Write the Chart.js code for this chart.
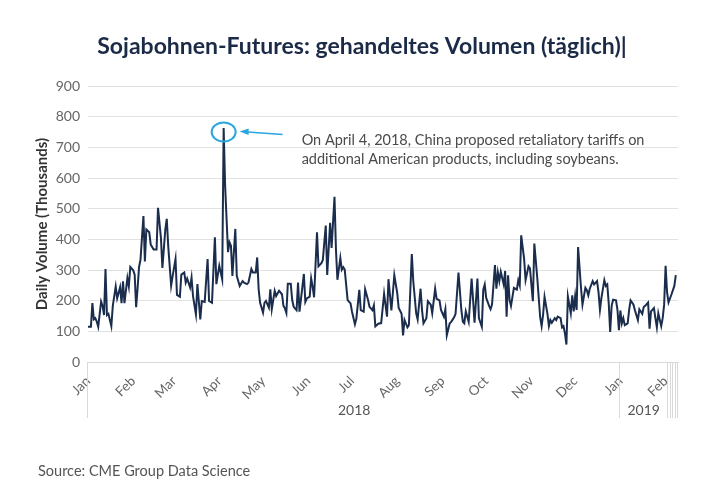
<!DOCTYPE html>
<html>
<head>
<meta charset="utf-8">
<title>Sojabohnen-Futures</title>
<script src="https://cdn.jsdelivr.net/npm/chart.js@4.4.1/dist/chart.umd.min.js"></script>
<style>
   html, body { margin: 0; padding: 0; background: #ffffff; }
   #chart-box { width: 720px; height: 500px; }
</style>
</head>
<body>
<div id="chart-box"><canvas id="volumeChart" width="720" height="500"></canvas></div>
<script>
const chartTitle = "Sojabohnen-Futures: gehandeltes Volumen (täglich)|";
const axisTitle = "Daily Volume (Thousands)";
const sourceText = "Source: CME Group Data Science";
const noteLines = [
   "On April 4, 2018, China proposed retaliatory tariffs on",
   "additional American products, including soybeans."
];

// days counted from Jan 1, 2018
const monthDays = [0, 31, 59, 90, 120, 151, 181, 212, 243, 273, 304, 334, 365, 396];
const monthLabels = ["Jan", "Feb", "Mar", "Apr", "May", "Jun", "Jul", "Aug", "Sep", "Oct", "Nov", "Dec", "Jan", "Feb"];
const yearStarts = [0, 365];
const yearLabels = ["2018", "2019"];
const yTicks = [0, 100, 200, 300, 400, 500, 600, 700, 800, 900];
const noteDay = 93;
const noteValue = 750;

const days = [
   0, 2, 3, 4, 5, 6, 7, 9, 10, 11, 12, 13, 14, 16, 17, 19, 20, 22, 23, 24,
   25, 27, 28, 29, 31, 32, 33, 34, 35, 36, 38, 39, 40, 42, 43, 45, 47, 48, 50, 51,
   53, 54, 55, 57, 58, 60, 61, 63, 64, 66, 67, 68, 70, 71, 72, 74, 75, 77, 78, 80,
   82, 83, 85, 87, 88, 90, 92, 93, 94, 95, 96, 97, 98, 99, 101, 102, 104, 106, 107, 109,
   110, 112, 113, 115, 116, 117, 118, 120, 121, 122, 124, 125, 126, 128, 129, 131, 133, 134, 135, 136,
   137, 139, 140, 141, 143, 144, 145, 147, 148, 149, 150, 152, 153, 154, 155, 157, 158, 160, 161, 163,
   164, 166, 167, 169, 170, 171, 173, 174, 175, 176, 178, 180, 181, 183, 184, 186, 187, 189, 190, 192,
   193, 195, 196, 197, 199, 201, 203, 205, 206, 208, 209, 210, 212, 213, 215, 216, 217, 219, 220, 222,
   223, 225, 226, 228, 229, 230, 232, 233, 235, 236, 238, 239, 241, 242, 244, 245, 246, 248, 249, 251,
   252, 254, 256, 257, 258, 259, 261, 263, 264, 265, 267, 268, 270, 271, 272, 273, 275, 276, 277, 279,
   280, 281, 282, 283, 285, 286, 287, 288, 289, 290, 292, 294, 295, 296, 297, 299, 300, 302, 303, 305,
   306, 308, 310, 311, 312, 313, 315, 316, 317, 318, 320, 321, 322, 324, 325, 326, 327, 328, 329, 331,
   332, 333, 334, 335, 336, 338, 339, 341, 342, 343, 344, 346, 347, 349, 350, 351, 352, 354, 355, 356,
   357, 358, 359, 360, 362, 363, 364, 365, 366, 367, 368, 370, 371, 372, 374, 375, 377, 378, 380, 381,
   382, 384, 385, 386, 388, 389, 390, 391, 393, 394, 395, 396, 397, 398, 400, 402, 403
];
const volumes = [
   115, 115, 192, 139, 143, 132, 115, 197, 183, 153, 303, 153, 157, 117, 183, 246, 208, 244, 192, 263,
   192, 274, 246, 310, 299, 285, 179, 241, 310, 334, 476, 328, 432, 423, 383, 367, 367, 503, 405, 307,
   432, 467, 378, 249, 279, 336, 219, 213, 285, 292, 259, 272, 243, 275, 215, 155, 254, 139, 199, 196,
   336, 199, 193, 407, 254, 314, 270, 763, 576, 467, 358, 390, 379, 281, 434, 281, 248, 264, 259, 254,
   259, 303, 292, 292, 341, 237, 193, 161, 193, 199, 177, 237, 172, 232, 215, 232, 221, 183, 175, 160,
   255, 255, 202, 180, 169, 259, 164, 246, 287, 196, 207, 213, 273, 246, 211, 423, 312, 322, 333, 445,
   284, 454, 372, 539, 366, 268, 339, 301, 309, 301, 202, 191, 164, 123, 142, 235, 169, 164, 237, 202,
   180, 169, 185, 116, 125, 127, 222, 148, 270, 168, 225, 283, 225, 176, 157, 87, 137, 113, 120, 352,
   264, 159, 139, 239, 170, 126, 143, 198, 187, 159, 239, 206, 201, 170, 148, 172, 87, 126, 131, 146,
   157, 292, 168, 131, 126, 165, 131, 272, 203, 128, 272, 143, 115, 236, 253, 209, 183, 172, 187, 316,
   239, 292, 264, 294, 253, 297, 148, 283, 203, 183, 242, 236, 267, 250, 413, 336, 267, 312, 305, 198,
   386, 275, 146, 117, 154, 212, 157, 117, 137, 128, 143, 137, 148, 143, 113, 117, 93, 57, 214, 159,
   217, 165, 214, 170, 375, 242, 187, 242, 234, 217, 239, 264, 253, 264, 228, 170, 209, 267, 248, 253,
   192, 98, 183, 203, 201, 170, 104, 168, 126, 143, 120, 126, 170, 201, 187, 168, 137, 172, 157, 179,
   183, 194, 109, 165, 176, 143, 113, 159, 117, 143, 187, 314, 228, 194, 220, 248, 283
];

const fontFamily = "Lato, 'Open Sans', sans-serif";
const lineColor = "#1b2d4d";
const noteColor = "#2aa7df";

function drawLine(ctx, x1, y1, x2, y2) {
   ctx.beginPath();
   ctx.moveTo(x1, y1);
   ctx.lineTo(x2, y2);
   ctx.stroke();
}

const extrasPlugin = {
   id: "extras",
   afterDraw(chart) {
      const ctx = chart.ctx;
      const area = chart.chartArea;
      const xs = chart.scales.x;
      const ys = chart.scales.y;
      ctx.save();

      // title
      ctx.fillStyle = "#1b2a47";
      ctx.font = "bold 23px " + fontFamily;
      ctx.textAlign = "center";
      ctx.textBaseline = "middle";
      ctx.fillText(chartTitle, 362, 47);

      // year header box under the axis
      const headerBottom = area.bottom + 56;
      const headerEnd = area.right - 11;
      ctx.strokeStyle = "#d9d9d9";
      ctx.lineWidth = 1;
      yearStarts.forEach(d => {
         const px = Math.round(xs.getPixelForValue(d)) - 0.5;
         drawLine(ctx, px, area.bottom, px, headerBottom);
      });
      for (let i = 0; i < 5; i++) {
         const px = Math.round(headerEnd + i * 2.6) + 0.5;
         drawLine(ctx, px, area.bottom, px, headerBottom);
      }
      ctx.fillStyle = "#555555";
      ctx.font = "14px " + fontFamily;
      yearLabels.forEach((label, i) => {
         const x1 = xs.getPixelForValue(yearStarts[i]);
         const x2 = i + 1 < yearStarts.length ? xs.getPixelForValue(yearStarts[i + 1]) : headerEnd;
         ctx.fillText(label, (x1 + x2) / 2, area.bottom + 48);
      });

      // annotation
      const cx = xs.getPixelForValue(noteDay);
      const cy = ys.getPixelForValue(noteValue);
      ctx.strokeStyle = noteColor;
      ctx.lineWidth = 2;
      ctx.beginPath();
      ctx.ellipse(cx, cy, 12, 9.5, 0, 0, Math.PI * 2);
      ctx.stroke();
      ctx.lineWidth = 1.5;
      drawLine(ctx, cx + 59, cy + 2.5, cx + 24, cy);
      ctx.fillStyle = noteColor;
      ctx.beginPath();
      ctx.moveTo(cx + 16, cy - 0.5);
      ctx.lineTo(cx + 25, cy - 3.5);
      ctx.lineTo(cx + 25, cy + 3);
      ctx.closePath();
      ctx.fill();

      ctx.fillStyle = "#4a4a4a";
      ctx.font = "14.5px " + fontFamily;
      ctx.textAlign = "left";
      noteLines.forEach((line, i) => {
         ctx.fillText(line, cx + 78, cy + 8 + i * 19);
      });

      // source
      ctx.fillStyle = "#555555";
      ctx.font = "14.5px " + fontFamily;
      ctx.fillText(sourceText, 38, 471);
      ctx.restore();
   }
};

document.addEventListener("DOMContentLoaded", function () {
   const points = days.map((d, i) => ({ x: d, y: volumes[i] }));
   const ctx = document.getElementById("volumeChart").getContext("2d");
   new Chart(ctx, {
      type: "line",
      data: {
         datasets: [{
            label: "Volume",
            data: points,
            borderColor: lineColor,
            borderWidth: 2,
            pointRadius: 0,
            tension: 0,
            fill: false
         }]
      },
      options: {
         responsive: false,
         animation: false,
         layout: {
            padding: { top: 86, right: 42, bottom: 82, left: 0 }
         },
         plugins: {
            legend: { display: false },
            tooltip: { enabled: false }
         },
         scales: {
            x: {
               type: "linear",
               min: 0,
               max: 404.5,
               afterBuildTicks: function (scale) {
                  scale.ticks = monthDays.map(d => ({ value: d }));
               },
               afterFit: function (scale) {
                  scale.height = 56;
               },
               ticks: {
                  autoSkip: false,
                  minRotation: 45,
                  maxRotation: 45,
                  padding: 3,
                  color: "#666666",
                  font: { family: fontFamily, size: 13.5 },
                  callback: function (value, index) {
                     return monthLabels[index];
                  }
               },
               grid: { display: false },
               border: { display: true, color: "#d9d9d9" }
            },
            y: {
               min: 0,
               max: 900,
               afterBuildTicks: function (scale) {
                  scale.ticks = yTicks.map(v => ({ value: v }));
               },
               afterFit: function (scale) {
                  scale.width = 88;
               },
               ticks: {
                  padding: 8,
                  color: "#666666",
                  font: { family: fontFamily, size: 14 }
               },
               grid: { color: "#e2e2e2", drawTicks: false },
               border: { display: false },
               title: {
                  display: true,
                  text: axisTitle,
                  color: "#333333",
                  font: { family: fontFamily, size: 15, weight: "bold" },
                  padding: { top: 33, bottom: 0 }
               }
            }
         }
      },
      plugins: [extrasPlugin]
   });
});
</script>
</body>
</html>
